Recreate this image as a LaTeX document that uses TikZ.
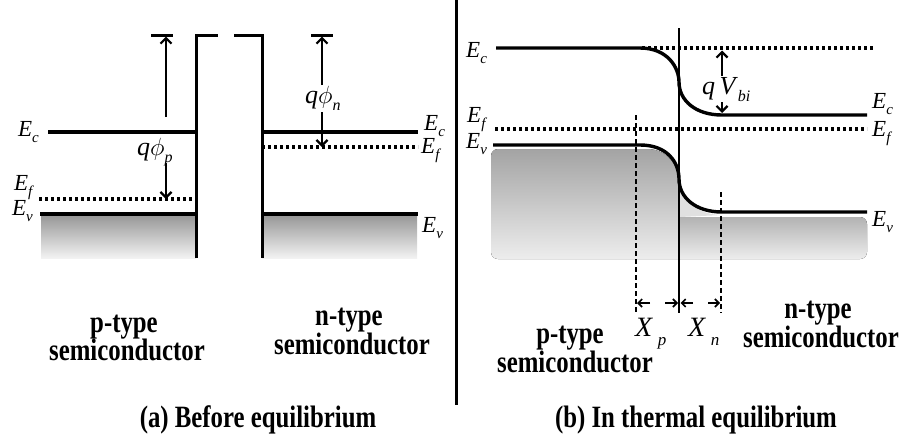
\documentclass[tikz,border=0pt]{standalone}
\usepackage{fontspec}
\setmainfont{Liberation Serif}
\newfontfamily\capfont[FakeStretch=0.8]{Liberation Serif}
\usetikzlibrary{arrows.meta}
\newcommand\EnLab[1]{\fontsize{23}{23}\selectfont\textit{E}\raisebox{-6pt}{\fontsize{15}{15}\selectfont\textit{#1}}}
\newcommand\BigTxt{\capfont\bfseries\fontsize{31}{31}\selectfont}
\begin{document}
\begin{tikzpicture}[x=1pt,y=-1pt,
  band/.style={line width=3.4pt},
  fermi/.style={line width=3.2pt, dash pattern=on 3pt off 3pt},
  wall/.style={line width=3pt},
  dimarrow/.style={line width=2.2pt, -{Straight Barb[length=5.5pt,width=11pt,line width=2.2pt]}},
  vbiarrow/.style={line width=2.2pt, {Straight Barb[length=5.5pt,width=11pt,line width=2.2pt]}-{Straight Barb[length=5.5pt,width=11pt,line width=2.2pt]}},
  xarrow/.style={line width=1.6pt, -{Straight Barb[length=4pt,width=8pt,line width=1.6pt]}},
  depl/.style={line width=1.8pt, dash pattern=on 5pt off 3pt},
  lbl/.style={anchor=base west, inner sep=0pt},
  txt/.style={anchor=base, inner sep=0pt, font=\BigTxt},
  bandfill/.style={top color=black!40, bottom color=black!5}
]
\useasboundingbox (0,0) rectangle (903,437);

% ---------------- panel (a) ----------------
\fill[bandfill] (41,216) rectangle (196,258);
\fill[bandfill] (262,216) rectangle (417,258);

\coordinate (aEcL1) at (48,132);  \coordinate (aEcL2) at (196,132);
\coordinate (aEfL1) at (39,199);  \coordinate (aEfL2) at (196,199);
\coordinate (aEvL1) at (40,214);  \coordinate (aEvL2) at (196,214);
\coordinate (aEcR1) at (262,132); \coordinate (aEcR2) at (418,132);
\coordinate (aEfR1) at (262,147); \coordinate (aEfR2) at (418,147);
\coordinate (aEvR1) at (262,214); \coordinate (aEvR2) at (418,214);

\draw[band] (aEcL1) -- (aEcL2);
\draw[fermi] (aEfL1) -- (aEfL2);
\draw[band] (aEvL1) -- (aEvL2);
\draw[band] (aEcR1) -- (aEcR2);
\draw[fermi] (aEfR1) -- (aEfR2);
\draw[band] (aEvR1) -- (aEvR2);

\draw[wall] (196,258) -- (196,35) -- (218,35);
\draw[wall] (234,35) -- (262,35) -- (262,258);
\draw[wall] (151,35) -- (173,35);
\draw[wall] (311,35) -- (333,35);

\draw[dimarrow] (166,117) -- (166,36.5);
\draw[dimarrow] (166,163) -- (166,199);
\draw[dimarrow] (322,85) -- (322,36.5);
\draw[dimarrow] (322,112) -- (322,147);

\node[lbl] (qphip) at (137,155) {\fontsize{26}{26}\selectfont\textit{q}$\phi$\raisebox{-7pt}{\fontsize{16}{16}\selectfont\textit{p}}};
\node[lbl] (qphin) at (305,103) {\fontsize{26}{26}\selectfont\textit{q}$\phi$\raisebox{-7pt}{\fontsize{16}{16}\selectfont\textit{n}}};

\node[lbl] (aEcLl) at (18,136) {\EnLab{c}};
\node[lbl] (aEfLl) at (14,190) {\EnLab{f}};
\node[lbl] (aEvLl) at (12,215) {\EnLab{v}};
\node[lbl] (aEcRl) at (424,130) {\EnLab{c}};
\node[lbl] (aEfRl) at (421,153) {\EnLab{f}};
\node[lbl] (aEvRl) at (422,232) {\EnLab{v}};

\node[txt] (aptype) at (124,332) {p-type};
\node[txt] (apsemi) at (127,360) {semiconductor};
\node[txt] (antype) at (349,325) {n-type};
\node[txt] (ansemi) at (352,354) {semiconductor};
\node[txt] (acap) at (258,427) {(a) Before equilibrium};

% divider
\draw[line width=3pt] (456,0) -- (456,405);

% ---------------- panel (b) ----------------
\fill[top color=black!36, bottom color=black!7, rounded corners=7pt]
  (491,149) -- (640,149) [sharp corners] .. controls (668,149) and (679,167) .. (680,183)
  -- (680,259) [rounded corners=7pt] -- (491,259) -- cycle;
\fill[black!12] (680,183) .. controls (682,200) and (698,215) .. (722,215) -- (680,217) -- cycle;
\fill[top color=black!30, bottom color=black!7]
  (680,217) [rounded corners=7pt] -- (867,217) -- (867,259) [sharp corners] -- (680,259) -- cycle;

\coordinate (bEcL) at (496,48);
\coordinate (bEcR) at (867,115);
\coordinate (bEvL) at (493,145);
\coordinate (bEvR) at (867,212);

\draw[fermi] (642,48) -- (873,48);
\draw[fermi] (495,129) -- (867,129);
\draw[band] (bEcL) -- (640,48) .. controls (668,48) and (679,68) .. (679,82)
  .. controls (679,100) and (695,115) .. (722,115) -- (bEcR);
\draw[band] (bEvL) -- (640,145) .. controls (668,145) and (679,163) .. (679,179)
  .. controls (679,197) and (695,212) .. (722,212) -- (bEvR);

\draw[line width=1.9pt] (679,28) -- (679,313);
\draw[depl] (636,115) -- (636,313);
\draw[depl] (721,192) -- (721,313);

\draw[vbiarrow] (722,50.5) -- (722,113);
\node[lbl, fill=white, inner sep=1pt] (qvbi) at (701,94) {\fontsize{26}{26}\selectfont\textit{q}\,\textit{V}\raisebox{-7pt}{\fontsize{16}{16}\selectfont\textit{bi}}};

\draw[xarrow] (650,303) -- (637,303);
\draw[xarrow] (665,303) -- (678,303);
\draw[xarrow] (693,303) -- (680.5,303);
\draw[xarrow] (708,303) -- (720,303);

\node[lbl] (xp) at (635,336) {\fontsize{28}{28}\selectfont\textit{X}\,\raisebox{-9pt}{\fontsize{17}{17}\selectfont\textit{p}}};
\node[lbl] (xn) at (688,336) {\fontsize{28}{28}\selectfont\textit{X}\,\raisebox{-9pt}{\fontsize{17}{17}\selectfont\textit{n}}};

\node[lbl] (bEcLl) at (466,57) {\EnLab{c}};
\node[lbl] (bEfLl) at (467,122) {\EnLab{f}};
\node[lbl] (bEvLl) at (466,148) {\EnLab{v}};
\node[lbl] (bEcRl) at (872,108) {\EnLab{c}};
\node[lbl] (bEfRl) at (872,136) {\EnLab{f}};
\node[lbl] (bEvRl) at (872,226) {\EnLab{v}};

\node[txt] (bptype) at (570,343) {p-type};
\node[txt] (bpsemi) at (575,372) {semiconductor};
\node[txt] (bntype) at (818,318) {n-type};
\node[txt] (bnsemi) at (821,347) {semiconductor};
\node[txt] (bcap) at (696,427) {(b) In thermal equilibrium};
\end{tikzpicture}
\end{document}
